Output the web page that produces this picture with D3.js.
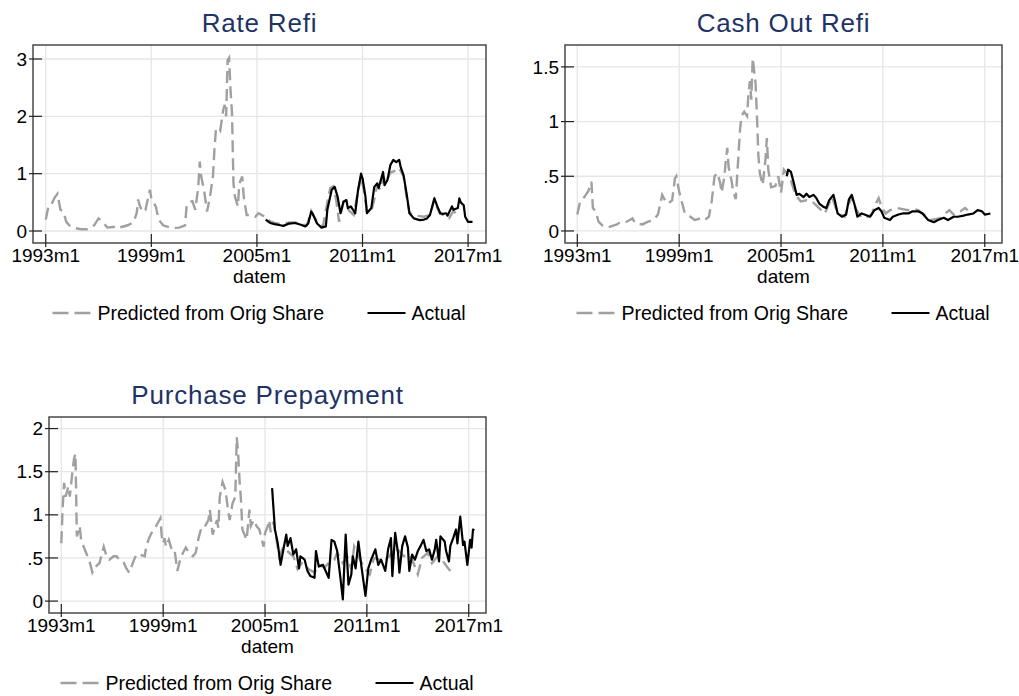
<!DOCTYPE html>
<html>
<head>
<meta charset="utf-8">
<script src="https://cdn.jsdelivr.net/npm/d3@7"></script>
<style>
  body { margin: 0; background: #fff; }
  svg { display: block; font-family: "Liberation Sans", Arial, sans-serif; }
</style>
</head>
<body>
<svg id="chart"></svg>
<script>
const width = 1019;
const height = 696;

// x values are months since 1993m1 (Stata monthly dates)
const xTicks = [0, 72, 144, 216, 288];
const xTickLabels = ["1993m1", "1999m1", "2005m1", "2011m1", "2017m1"];
const legendLabels = ["Predicted from Orig Share", "Actual"];

const rateRefiPred = [[0,.2],[2,.45],[4,.47],[6,.58],[8,.65],[10,.37],[12,.34],[14,.16],[16,.1],[20,.05],[24,.03],[28,.03],[33,.1],[36,.22],[38,.18],[42,.06],[46,.07],[48,.09],[50,.06],[56,.1],[60,.16],[62,.31],[63,.55],[64,.45],[66,.33],[68,.37],[70,.6],[71,.72],[72,.57],[75,.43],[77,.2],[80,.1],[86,.05],[91,.06],[95,.1],[96,.42],[98,.51],[100,.52],[102,.37],[104,.77],[105,1.21],[106,.95],[108,.7],[110,.34],[112,.6],[114,.95],[115,1.41],[116,1.76],[118,1.81],[119,1.76],[121,2.11],[122,2.2],[123,2.0],[124,2.98],[125,3.02],[126,2.46],[127,2.06],[128,.83],[129,.6],[131,.43],[132,.83],[134,.95],[135,.6],[137,.28],[140,.28],[143,.25],[145,.31],[148,.27],[150,.25],[153,.17],[156,.14],[160,.12],[166,.15],[170,.15],[174,.12],[178,.1],[181,.35],[183,.25],[186,.12],[189,.08],[192,.5],[194,.75],[196,.78],[198,.55],[200,.16],[203,.5],[205,.45],[207,.35],[210,.28],[213,.7],[215,.95],[217,.7],[219,.35],[222,.35],[224,.55],[226,.8],[228,.72],[230,.95],[232,.85],[235,1.02],[238,1.05],[241,1.1],[244,.95],[246,.6],[248,.32],[251,.27],[255,.26],[258,.25],[262,.28],[265,.55],[267,.4],[269,.3],[272,.27],[275,.22],[278,.35],[280,.3]];
const rateRefiActual = [[150,.2],[153,.14],[156,.12],[160,.1],[162,.09],[166,.13],[170,.14],[174,.11],[177,.08],[179,.13],[181,.34],[182,.3],[185,.13],[188,.06],[191,.08],[192,.37],[195,.72],[197,.77],[199,.6],[201,.31],[203,.51],[205,.54],[206,.4],[208,.43],[211,.31],[213,.72],[215,1.0],[216,.92],[218,.6],[219,.31],[222,.4],[224,.77],[226,.83],[227,.75],[230,1.03],[231,.8],[233,.89],[235,1.15],[237,1.24],[239,1.2],[241,1.24],[242,1.12],[244,.97],[246,.66],[248,.31],[251,.22],[255,.19],[258,.2],[260,.22],[262,.28],[265,.57],[267,.43],[269,.31],[271,.3],[273,.31],[274,.27],[277,.43],[278,.37],[281,.4],[282,.57],[283,.5],[285,.45],[286,.25],[288,.16],[291,.16]];

const cashOutPred = [[0,.15],[2,.27],[5,.31],[8,.37],[10,.45],[11,.21],[13,.18],[15,.085],[18,.046],[22,.035],[28,.06],[31,.085],[35,.085],[39,.115],[41,.07],[46,.06],[50,.085],[54,.1],[57,.15],[60,.33],[62,.28],[64,.25],[67,.28],[69,.48],[70,.5],[72,.36],[73,.31],[76,.16],[80,.13],[83,.1],[87,.115],[90,.1],[93,.13],[95,.27],[97,.5],[99,.53],[101,.44],[102,.35],[104,.5],[105,.65],[106,.76],[107,.58],[109,.46],[110,.37],[112,.29],[113,.5],[115,.92],[116,1.05],[118,1.09],[120,1.05],[121,1.26],[122,1.37],[123,1.2],[124,1.58],[126,1.35],[127,1.05],[128,.69],[129,.53],[131,.42],[133,.65],[134,.85],[135,.56],[137,.4],[140,.41],[142,.5],[144,.35],[146,.56],[148,.53],[150,.5],[153,.38],[156,.3],[158,.27],[162,.28],[166,.27],[170,.22],[175,.16],[178,.25],[180,.31],[183,.2],[186,.15],[189,.13],[192,.25],[194,.31],[197,.2],[201,.12],[205,.13],[208,.15],[211,.25],[213,.3],[215,.22],[218,.16],[221,.19],[226,.21],[230,.2],[234,.19],[238,.2],[241,.19],[245,.15],[250,.1],[254,.11],[257,.12],[260,.16],[263,.19],[266,.15],[268,.16],[271,.18],[274,.21],[276,.19]];
const cashOutActual = [[148,.5],[149,.56],[151,.54],[153,.44],[155,.33],[157,.34],[160,.31],[162,.34],[164,.31],[167,.33],[169,.3],[171,.25],[174,.22],[176,.21],[178,.28],[181,.33],[182,.28],[184,.16],[187,.13],[190,.15],[192,.29],[194,.33],[196,.24],[198,.13],[201,.16],[203,.15],[207,.13],[210,.19],[213,.21],[215,.18],[217,.12],[221,.1],[223,.13],[227,.15],[230,.16],[234,.16],[237,.18],[241,.18],[244,.16],[248,.1],[252,.08],[255,.1],[259,.12],[262,.1],[266,.13],[269,.13],[273,.14],[276,.15],[280,.16],[283,.19],[286,.18],[288,.15],[292,.16]];

const purchasePred = [[0,.67],[1,1.1],[2,1.37],[3,1.21],[5,1.33],[6,1.21],[8,1.52],[9,1.65],[10,1.71],[11,.75],[13,.87],[14,.71],[17,.58],[20,.46],[22,.33],[25,.41],[27,.44],[30,.63],[32,.52],[34,.48],[37,.52],[39,.52],[41,.48],[44,.45],[46,.38],[48,.33],[51,.46],[53,.54],[55,.54],[59,.52],[60,.63],[62,.73],[65,.83],[67,.87],[70,.96],[71,.75],[72,.67],[73,.73],[74,.63],[76,.71],[78,.6],[80,.6],[82,.35],[84,.48],[86,.56],[88,.62],[91,.54],[93,.52],[95,.56],[97,.73],[99,.85],[101,.85],[104,.94],[105,1.06],[107,.77],[110,.94],[111,.85],[112,1.21],[114,1.38],[116,1.29],[118,1.04],[119,.94],[121,1.13],[123,1.21],[124,1.9],[125,1.71],[126,1.4],[127,1.17],[128,.83],[131,.71],[133,1.06],[134,.87],[136,.94],[138,.87],[140,.83],[143,.63],[144,.79],[146,.87],[147,.94],[148,.8],[150,.92],[154,.52],[157,.63],[161,.56],[164,.52],[167,.37],[170,.44],[175,.37],[179,.33],[182,.42],[186,.39],[189,.44],[193,.48],[195,.56],[199,.44],[202,.52],[205,.37],[207,.63],[210,.52],[214,.39],[218,.31],[221,.5],[225,.48],[228,.46],[232,.52],[235,.62],[239,.58],[242,.52],[246,.54],[249,.44],[252,.31],[255,.5],[259,.56],[262,.44],[266,.52],[269,.48],[273,.39],[275,.35]];
const purchaseActual = [[149,1.31],[151,.83],[153,.67],[155,.42],[157,.6],[159,.77],[160,.64],[162,.73],[164,.54],[166,.6],[168,.38],[169,.52],[172,.48],[174,.35],[176,.29],[179,.27],[180,.58],[182,.4],[185,.42],[186,.38],[189,.27],[191,.71],[193,.69],[195,.58],[197,.31],[199,.02],[201,.77],[203,.19],[205,.31],[206,.52],[208,.38],[210,.69],[212,.42],[215,.06],[217,.38],[219,.48],[222,.6],[224,.42],[226,.48],[229,.35],[231,.6],[233,.73],[234,.29],[236,.79],[238,.56],[239,.33],[241,.64],[243,.75],[245,.62],[246,.35],[248,.54],[250,.48],[252,.58],[254,.64],[256,.71],[258,.58],[260,.6],[262,.48],[264,.6],[265,.71],[267,.46],[268,.75],[271,.69],[272,.58],[274,.46],[275,.64],[277,.73],[279,.83],[280,.67],[282,.98],[284,.65],[285,.69],[287,.42],[289,.71],[290,.62],[291,.83],[292,.82]];

const panels = [
    { title: "Rate Refi", pred: rateRefiPred, actual: rateRefiActual,
      frame: { l: 33, t: 45, r: 486, b: 243 }, yDomain: [-0.209, 3.244], yTicks: [0, 1, 2, 3] },
    { title: "Cash Out Refi", pred: cashOutPred, actual: cashOutActual,
      frame: { l: 565, t: 45, r: 1002, b: 243 }, yDomain: [-0.11, 1.70], yTicks: [0, 0.5, 1, 1.5] },
    { title: "Purchase Prepayment", pred: purchasePred, actual: purchaseActual,
      frame: { l: 49, t: 417, r: 486, b: 613 }, yDomain: [-0.138, 2.134], yTicks: [0, 0.5, 1, 1.5, 2] }
];

const colors = { pred: "#a0a0a0", actual: "#000000", grid: "#e6e6e6", frame: "#3c3c3c", title: "#1f3366" };
const fontSize = 19;

const svg = d3.select("#chart")
    .attr("width", width)
    .attr("height", height);

svg.append("rect").attr("width", width).attr("height", height).attr("fill", "#fff");

// stata style y labels: .5 instead of 0.5
function yFmt(v) {
    let s = String(v);
    if (s.startsWith("0.")) s = s.slice(1);
    return s;
}

panels.forEach(p => {
    const f = p.frame;
    const cx = (f.l + f.r) / 2;
    const g = svg.append("g");

    const x = d3.scaleLinear().domain([-8.7, 300.2]).range([f.l, f.r]);
    const y = d3.scaleLinear().domain(p.yDomain).range([f.b, f.t]);

    // gridlines
    g.selectAll(".hgrid").data(p.yTicks).enter().append("line")
        .attr("x1", f.l).attr("x2", f.r)
        .attr("y1", d => y(d)).attr("y2", d => y(d))
        .attr("stroke", colors.grid).attr("stroke-width", 1.3);
    g.selectAll(".vgrid").data(xTicks).enter().append("line")
        .attr("x1", d => x(d)).attr("x2", d => x(d))
        .attr("y1", f.t).attr("y2", f.b)
        .attr("stroke", colors.grid).attr("stroke-width", 1.3);

    // series
    const line = d3.line().x(d => x(d[0])).y(d => y(d[1]));
    g.append("path").datum(p.pred)
        .attr("d", line).attr("fill", "none")
        .attr("stroke", colors.pred).attr("stroke-width", 2.4)
        .attr("stroke-dasharray", "12,6");
    g.append("path").datum(p.actual)
        .attr("d", line).attr("fill", "none")
        .attr("stroke", colors.actual).attr("stroke-width", 2.2)
        .attr("stroke-linejoin", "round");

    // frame
    g.append("rect")
        .attr("x", f.l).attr("y", f.t)
        .attr("width", f.r - f.l).attr("height", f.b - f.t)
        .attr("fill", "none").attr("stroke", colors.frame).attr("stroke-width", 1.4);

    // ticks
    g.selectAll(".xtick").data(xTicks).enter().append("line")
        .attr("x1", d => x(d)).attr("x2", d => x(d))
        .attr("y1", f.b - 9).attr("y2", f.b + 4)
        .attr("stroke", "#222").attr("stroke-width", 1.2);
    g.selectAll(".ytick").data(p.yTicks).enter().append("line")
        .attr("x1", f.l - 4).attr("x2", f.l + 9)
        .attr("y1", d => y(d)).attr("y2", d => y(d))
        .attr("stroke", "#222").attr("stroke-width", 1.2);

    // tick labels
    g.selectAll(".xlab").data(xTicks).enter().append("text")
        .attr("x", d => x(d)).attr("y", f.b + 19)
        .attr("text-anchor", "middle").attr("font-size", fontSize)
        .text((d, i) => xTickLabels[i]);
    g.selectAll(".ylab").data(p.yTicks).enter().append("text")
        .attr("x", f.l - 6).attr("y", d => y(d)).attr("dy", "0.35em")
        .attr("text-anchor", "end").attr("font-size", fontSize)
        .text(d => yFmt(d));

    g.append("text")
        .attr("x", cx).attr("y", f.b + 40)
        .attr("text-anchor", "middle").attr("font-size", fontSize)
        .text("datem");

    g.append("text")
        .attr("x", cx).attr("y", f.t - 13)
        .attr("text-anchor", "middle").attr("font-size", 26)
        .attr("letter-spacing", "0.8px")
        .attr("fill", colors.title)
        .text(p.title);

    // legend
    const ly = f.b + 70;
    g.append("line")
        .attr("x1", cx - 207).attr("x2", cx - 169).attr("y1", ly).attr("y2", ly)
        .attr("stroke", colors.pred).attr("stroke-width", 2.4).attr("stroke-dasharray", "16,6");
    g.append("text")
        .attr("x", cx - 162).attr("y", ly + 7).attr("font-size", fontSize + 0.5)
        .text(legendLabels[0]);
    g.append("line")
        .attr("x1", cx + 108).attr("x2", cx + 146).attr("y1", ly).attr("y2", ly)
        .attr("stroke", colors.actual).attr("stroke-width", 2.2);
    g.append("text")
        .attr("x", cx + 152).attr("y", ly + 7).attr("font-size", fontSize + 0.5)
        .text(legendLabels[1]);
});
</script>
</body>
</html>
